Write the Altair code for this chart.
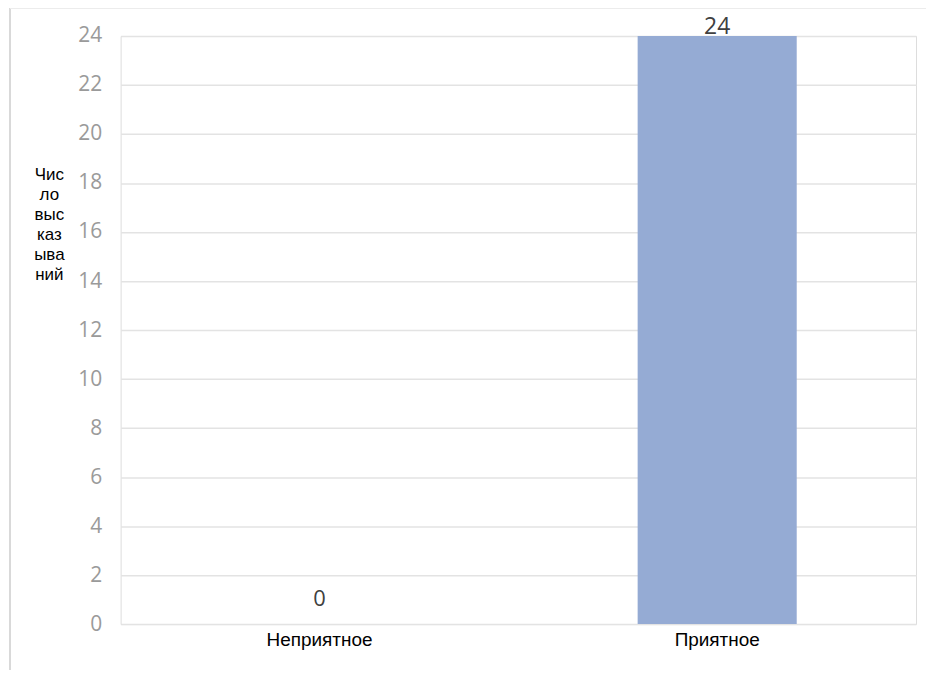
import altair as alt
import pandas as pd

categories = ["Неприятное", "Приятное"]
values = [0, 24]
y_title = ["Чис", "ло", "выс", "каз", "ыва", "ний"]

df = pd.DataFrame({"cat": categories, "val": values})

W, H = 798, 590

base = alt.Chart(df)

bars = base.mark_bar(color="#95abd4").encode(
    x=alt.X("cat:N", sort=categories, title=None,
            scale=alt.Scale(paddingInner=0.6, paddingOuter=0.3),
            axis=alt.Axis(labelAngle=0, labelFont="Liberation Sans", labelFontSize=19,
                          labelColor="#000000", labelPadding=7, ticks=False, domain=False,
                          grid=False)),
    y=alt.Y("val:Q", scale=alt.Scale(domain=[0, 24]),
            axis=alt.Axis(values=list(range(0, 25, 2)), title=y_title, titleAngle=0,
                          titleFont="Liberation Sans", titleFontSize=17, titleFontWeight="normal",
                          titleColor="#000000", titleAlign="center", titleBaseline="top",
                          titleX=-72, titleY=131, titleLineHeight=20,
                          labelFont="Open Sans", labelFontSize=21, labelColor="#9a9a9a",
                          labelPadding=19, ticks=False, domain=False,
                          gridColor="#e3e3e3", gridWidth=1.5)),
)

lab_top = base.transform_filter("datum.val > 0").mark_text(
    baseline="middle", dy=-9, fontSize=23, font="Open Sans", color="#404040"
).encode(x=alt.X("cat:N", sort=categories), y="val:Q", text="val:Q")

lab_zero = base.transform_filter("datum.val == 0").mark_text(
    baseline="middle", dy=-25, fontSize=22, font="Open Sans", color="#404040"
).encode(x=alt.X("cat:N", sort=categories), y="val:Q", text="val:Q")

frame_left = alt.Chart(pd.DataFrame({"a": [0]})).mark_rule(color="#d9d9d9", strokeWidth=2).encode(
    x=alt.value(-111), y=alt.value(-28), y2=alt.value(H + 60))
frame_top = alt.Chart(pd.DataFrame({"a": [0]})).mark_rule(color="#ececec", strokeWidth=2).encode(
    x=alt.value(-111), x2=alt.value(W + 20), y=alt.value(-28))

chart = alt.layer(bars, lab_top, lab_zero, frame_left, frame_top).properties(
    width=W, height=H,
    autosize=alt.AutoSizeParams(type="none"),
    padding={"left": 113, "top": 27, "right": 10, "bottom": 45},
).configure_view(stroke="#e3e3e3", strokeWidth=1.5).configure(background="white")

chart.save("out.html", embed_options={"renderer": "svg", "actions": False})
